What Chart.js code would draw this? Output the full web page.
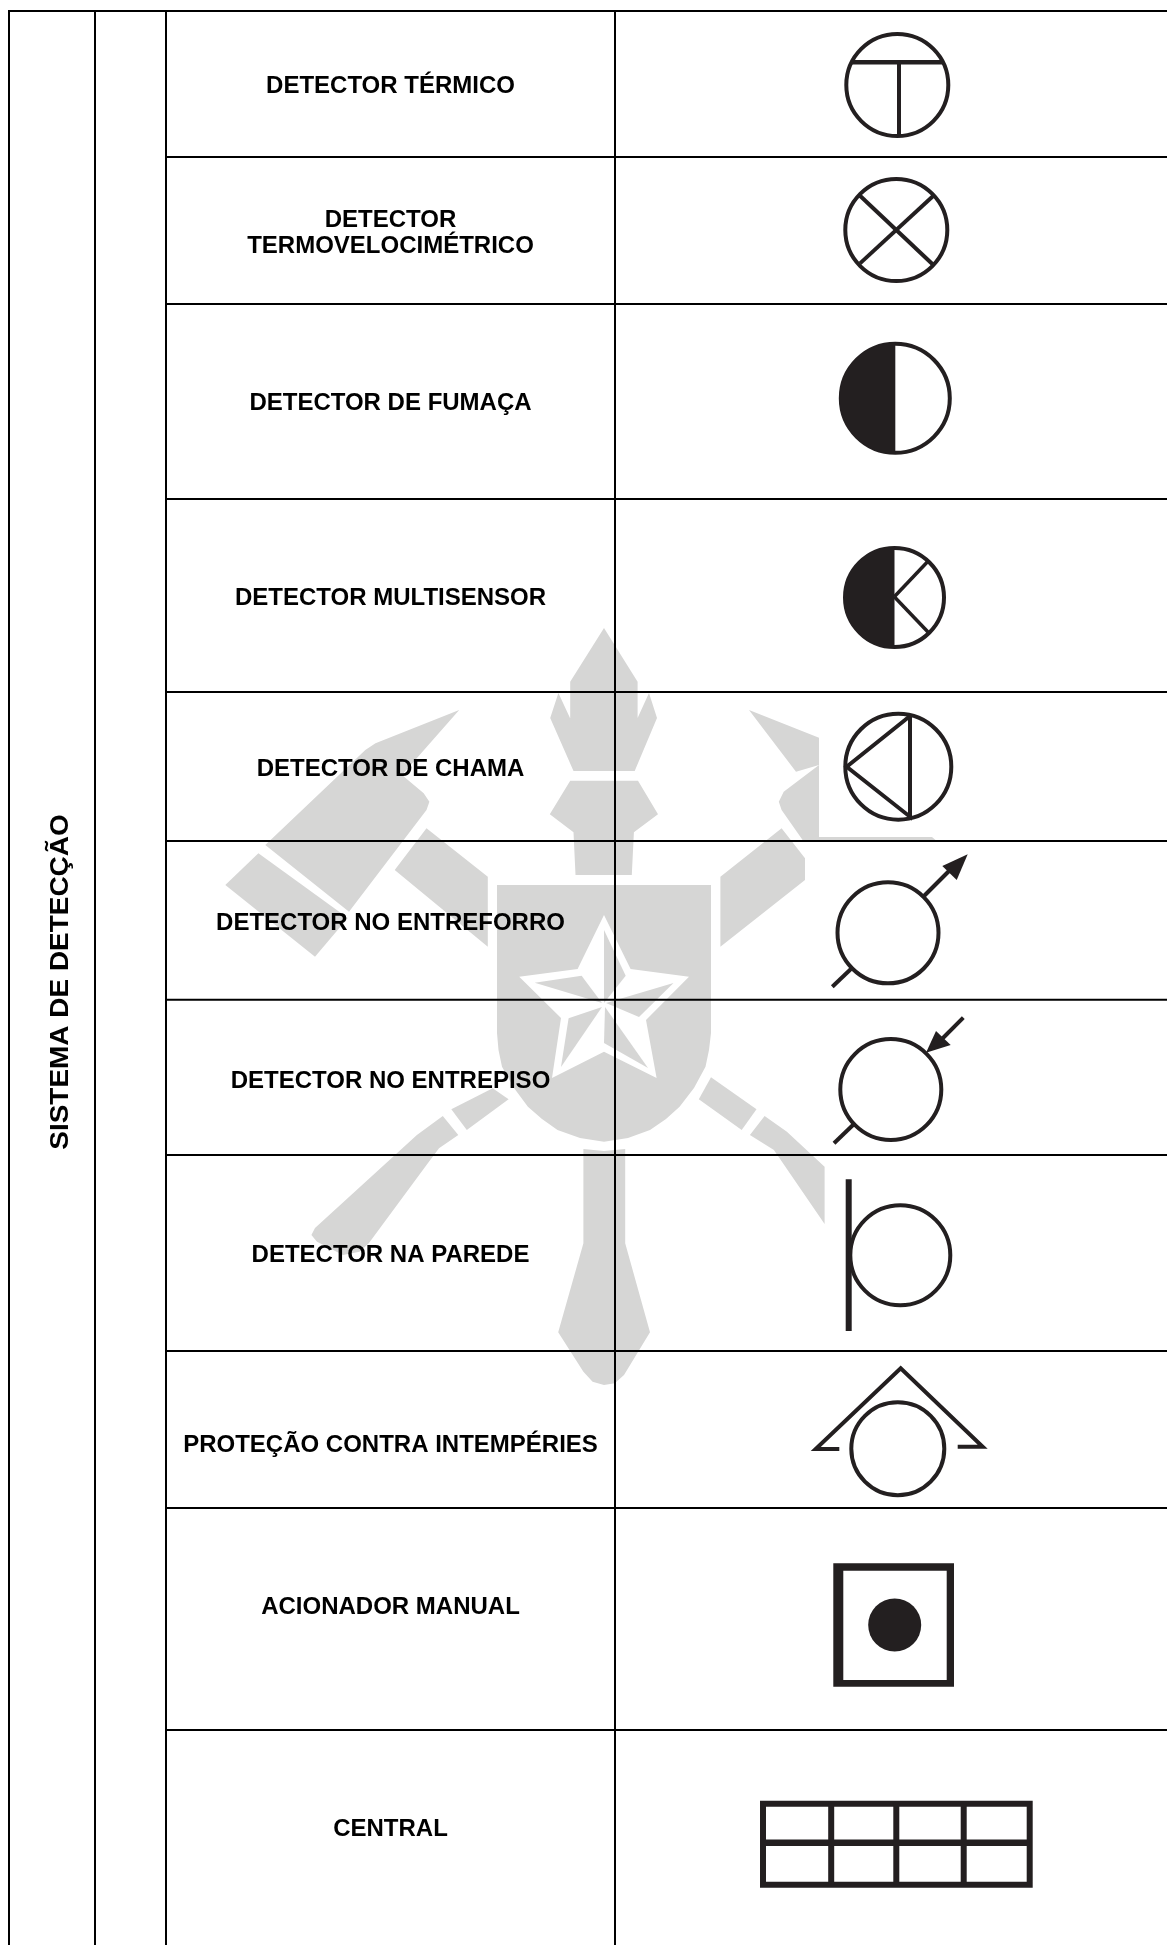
<!DOCTYPE html>
<html><head><meta charset="utf-8">
<style>html,body{margin:0;padding:0;background:#fff}canvas{display:block}</style>
<script src="https://cdn.jsdelivr.net/npm/chart.js@4/dist/chart.umd.min.js"></script>
</head><body><canvas id="c" width="1167" height="1945"></canvas>
<script>
// ---- table structure ----
const rowLines = [157, 304, 499, 692, 841, 999.7, 1155, 1351, 1508, 1730];
const colLines = [9, 95, 166, 615];
const topLine = 11, bottomEdge = 1945, rightEdge = 1167;
const labels = ["DETECTOR TÉRMICO","DETECTOR","TERMOVELOCIMÉTRICO","DETECTOR DE FUMAÇA","DETECTOR MULTISENSOR","DETECTOR DE CHAMA","DETECTOR NO ENTREFORRO","DETECTOR NO ENTREPISO","DETECTOR NA PAREDE","PROTEÇÃO CONTRA INTEMPÉRIES","ACIONADOR MANUAL","CENTRAL"];
const labelBaselines = [93, 227, 253, 409.5, 605, 776, 930, 1087.5, 1262, 1452, 1613.5, 1835.5];
const labelX = 390.5;
const sideTitle = "SISTEMA DE DETECÇÃO";
const sideTitleAt = [68, 982];

// ---- watermark (grey crest) ----
const flame = [[604,628],[637.6,681.7],[637.6,718],[649,693],[657,718],[634.7,771],[573.5,771],[550.2,718],[558.4,693],[570,718],[570.2,681.7]];
const collar = [[570.2,780.7],[638,780.7],[658,814.3],[633.9,832.3],[631.8,875],[575.5,875],[573.5,832.3],[549.8,814.3]];
const shield = [[497,885],[711,885],[711,1033],[709,1050],[705.5,1066.7],[694,1088],[679.6,1106.7],[666,1119],[650,1130],[628,1138],[604,1141.7],[580,1138],[557.5,1130],[542,1119],[527.9,1106.7],[514,1088],[502,1066.7],[498.5,1050],[497,1033]];
const star = [[604,915],[630.6,969],[689,976.7],[646,1020],[656.6,1078],[604,1051.7],[552,1078],[561,1018],[519.2,976.7],[577.6,969]];
const facetTop = [[604,930],[625.7,975.7],[604,1003]];
const facetLeft = [[534.7,982.7],[581.6,975.7],[602,1003]];
const facetRight = [[673.5,983],[606,1003],[639,1017]];
const facetLowR = [[605,1007],[648,1068],[604,1043]];
const facetLowL = [[602,1007],[561,1067],[568.6,1018.3]];
const bladeL = [[459.2,710],[402,775],[423.7,793.3],[429.4,801.7],[426.5,810],[349,911.7],[265.3,845],[365.3,750],[375.5,743.3]];
const butL = [[258.4,853.3],[347.8,918],[315,956.7],[225.3,885]];
const wingL = [[426.5,828.3],[487.8,876.7],[487.8,946.7],[394.7,870]];
const bladeR1 = [[749,710],[819,737.7],[819,765],[796,771.7]];
const bladeR2 = [[819,765],[783.7,791.7],[778.8,801.7],[781.6,810],[803.3,841],[936.7,841],[932,837],[819,837]];
const wingR = [[781.6,828.3],[805,858.3],[805,880],[720.4,946.7],[720.4,876.7]];
const butR = [[780,842],[804,860],[804,878],[780,897]];
const armL1 = [[492.7,1088.3],[508.6,1099.3],[466.8,1130],[451.3,1109.3]];
const armL2 = [[442.8,1116],[458.3,1135],[439,1148.3],[428,1163],[368.8,1243.3],[359.5,1251.7],[343,1255],[317,1241.7],[311.4,1235],[315,1228],[416.9,1135]];
const armR1 = [[711,1077.3],[756.5,1109.3],[741.7,1130],[698.8,1099.3]];
const armR2 = [[764.6,1116],[786.9,1131.7],[824.6,1166.7],[824.6,1224],[773.9,1150],[749.9,1135]];
const sword = [[583.4,1149],[604,1151],[625.2,1149],[625.2,1243.3],[650,1332.3],[624,1375],[614.8,1383.3],[604,1385],[592.6,1381.7],[583.4,1371.7],[558.2,1332.3],[583.4,1243.3]];
const watermarkShapes = [flame,collar,shield,bladeL,butL,wingL,bladeR1,bladeR2,wingR,butR,armL1,armL2,armR1,armR2,sword];
const starFacets = [facetTop,facetLeft,facetRight,facetLowR,facetLowL];

// ---- symbols: circles [x, y, radius] ----
const circles = [[897.3,85,51],[896.3,230,51],[895.3,398.3,54.5],[894.5,597.5,49.5],[898.3,766.7,53],[888,932.8,50.5],[890.8,1089.5,50.5],[900.3,1255.3,50],[897.8,1448.7,46.5]];
const halfDiscs = [[895.3,398.3,55.5],[894.5,597.5,50.5]];
const dot = [894.7,1625,26.5];
const frameOuter = [[833.3,1563.3],[954,1563.3],[954,1686.7],[833.3,1686.7]];
const frameInner = [[843.3,1570.7],[946.7,1570.7],[946.7,1680],[843.3,1680]];
// ---- symbols: strokes [width, points] ----
const strokes = [
 [4.5,[[852,62.3],[943,62.3]]],[4,[[899,62],[899,136]]],
 [4,[[860,195.7],[933.4,265]]],[4,[[933.4,195.7],[860,263.4]]],
 [3.5,[[894.3,596.7],[928,561.3]]],[3.5,[[894.3,596.7],[928.7,632.7]]],
 [4,[[910,716],[846.7,766.7],[910,816.7],[910,716]]],
 [4,[[852.5,967.5],[832.3,986.7]]],[4,[[923,897],[950,870]]],
 [4,[[853.5,1124.5],[834,1143.3]]],[4,[[963.3,1017.7],[940,1041]]],
 [6,[[848.7,1179.3],[848.7,1331]]],
 [4,[[839.3,1449],[815.7,1449],[900.7,1368.3],[982.7,1446.7],[957.7,1446.7]]],
 [6,[[760,1803.7],[1029.7,1803.7],[1029.7,1884.7],[763,1884.7],[763,1800.7]]],
 [6,[[831.2,1803.7],[831.2,1884.7]]],[6,[[896.3,1803.7],[896.3,1884.7]]],[6,[[963.7,1803.7],[963.7,1884.7]]],[6.5,[[763,1842.7],[1029.7,1842.7]]]
];
const arrowUp = [[967.7,854.3],[942.3,866],[956.7,880]];
const arrowDown = [[926,1052.7],[936,1031],[950.7,1045]];

const INK = '#231f20', GREY = '#d6d6d5';
const pts = a => a.map(p => ({x:p[0], y:p[1]}));
const datasets = [];
function poly(a, color){datasets.push({data:pts(a),fill:'shape',backgroundColor:color,borderColor:'transparent',borderWidth:0,pointRadius:0,clip:false});}
function stroke(a, w, color, cap){datasets.push({data:pts(a),fill:false,borderColor:color,borderWidth:w,pointRadius:0,borderCapStyle:cap||'butt',borderJoinStyle:'miter',clip:false});}
watermarkShapes.forEach(s => poly(s, GREY));
poly(star,'#ffffff');
starFacets.forEach(s => poly(s, GREY));
rowLines.forEach(y => stroke([[colLines[2],y],[rightEdge,y]],2,'#000'));
stroke([[colLines[0]-1,topLine],[rightEdge,topLine]],2,'#000');
colLines.forEach(x => stroke([[x,topLine],[x,bottomEdge]],2,'#000'));
poly(frameOuter,INK); poly(frameInner,'#ffffff');
strokes.forEach(s => stroke(s[1],s[0],INK));
poly(arrowUp,INK); poly(arrowDown,INK);
circles.forEach(c => datasets.push({data:[{x:c[0],y:c[1]}],showLine:false,pointRadius:c[2],pointBorderWidth:4,pointBorderColor:INK,pointBackgroundColor:'transparent',clip:false}));
datasets.push({data:[{x:dot[0],y:dot[1]}],showLine:false,pointRadius:dot[2],pointBorderWidth:0,pointBackgroundColor:INK,clip:false});
datasets.forEach((d,i) => d.order = datasets.length - i);

const overlay = {
  id:'overlay',
  afterDatasetsDraw(chart){
    const {ctx, scales:{x,y}} = chart;
    ctx.save();
    ctx.fillStyle = INK;
    halfDiscs.forEach(h => {
      ctx.beginPath();
      ctx.arc(x.getPixelForValue(h[0]), y.getPixelForValue(h[1]), h[2], Math.PI/2, Math.PI*1.5);
      ctx.closePath(); ctx.fill();
    });
    ctx.fillStyle = '#000';
    ctx.font = 'bold 24px "Liberation Sans"';
    ctx.textAlign = 'center'; ctx.textBaseline = 'alphabetic';
    labels.forEach((t,i) => ctx.fillText(t, x.getPixelForValue(labelX), y.getPixelForValue(labelBaselines[i])));
    ctx.translate(x.getPixelForValue(sideTitleAt[0]), y.getPixelForValue(sideTitleAt[1]));
    ctx.rotate(-Math.PI/2);
    ctx.scale(1.075, 1);
    ctx.font = 'bold 26px "Liberation Sans"';
    ctx.fillText(sideTitle, 0, 0);
    ctx.restore();
  }
};

new Chart(document.getElementById('c'), {
  type:'line',
  data:{datasets},
  plugins:[overlay],
  options:{
    responsive:false, animation:false, events:[],
    layout:{padding:0, autoPadding:false},
    plugins:{legend:{display:false},tooltip:{enabled:false},title:{display:false}},
    scales:{
      x:{type:'linear',min:0,max:1167,display:false},
      y:{type:'linear',min:0,max:1945,reverse:true,display:false}
    }
  }
});
</script></body></html>
